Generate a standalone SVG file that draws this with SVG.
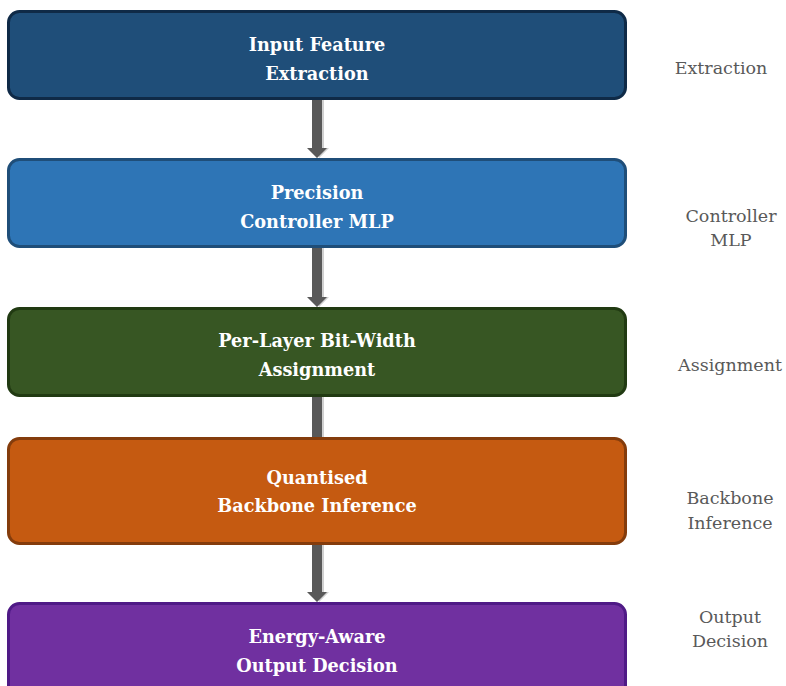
<svg xmlns="http://www.w3.org/2000/svg" width="786" height="686" viewBox="0 0 786 686">
<style>
.box{stroke-width:3}
.t{font-family:"DejaVu Serif","Liberation Serif",serif;font-weight:bold;font-size:17.7px;fill:#ffffff;text-anchor:middle}
.s{font-family:"DejaVu Serif","Liberation Serif",serif;font-size:17.5px;fill:#595959;text-anchor:middle}
.arr{fill:#595959}
.sh{fill:#d0d0d0}
</style>
<rect width="786" height="686" fill="#ffffff"/>
<g id="connectors">
<path class="sh" d="M314 100 H324 V148 H329 L319 158 Z"/>
<path class="arr" d="M312 100 H322 V148 H327 L317 158 L307 148 H312 Z"/>
<path class="sh" d="M314 248 H324 V297 H329 L319 307 Z"/>
<path class="arr" d="M312 248 H322 V297 H327 L317 307 L307 297 H312 Z"/>
<path class="sh" d="M314 397 H324 V440 H314 Z"/>
<path class="arr" d="M312 397 H322 V440 H312 Z"/>
<path class="sh" d="M314 545 H324 V592 H329 L319 602 Z"/>
<path class="arr" d="M312 545 H322 V592 H327 L317 602 L307 592 H312 Z"/>
</g>
<g id="node1">
<rect class="box" x="8.5" y="11.5" width="617" height="87" rx="11" fill="#1f4e79" stroke="#0f2a47"/>
<text class="t" x="317" y="51">Input Feature</text>
<text class="t" x="317" y="80">Extraction</text>
</g>
<g id="node2">
<rect class="box" x="8.5" y="159.5" width="617" height="87" rx="11" fill="#2e75b6" stroke="#1f4e79"/>
<text class="t" x="317" y="199">Precision</text>
<text class="t" x="317" y="228">Controller MLP</text>
</g>
<g id="node3">
<rect class="box" x="8.5" y="308.5" width="617" height="87" rx="11" fill="#375623" stroke="#213a12"/>
<text class="t" x="317" y="347">Per-Layer Bit-Width</text>
<text class="t" x="317" y="376">Assignment</text>
</g>
<g id="node4">
<rect class="box" x="8.5" y="438.5" width="617" height="105" rx="11" fill="#c55a11" stroke="#843c0c"/>
<text class="t" x="317" y="484">Quantised</text>
<text class="t" x="317" y="512">Backbone Inference</text>
</g>
<g id="node5">
<rect class="box" x="8.5" y="603.5" width="617" height="100" rx="11" fill="#7030a0" stroke="#4f1a86"/>
<text class="t" x="317" y="643">Energy-Aware</text>
<text class="t" x="317" y="672">Output Decision</text>
</g>
<g id="labels">
<text class="s" x="721" y="74">Extraction</text>
<text class="s" x="731" y="222">Controller</text>
<text class="s" x="731" y="246">MLP</text>
<text class="s" x="730" y="371">Assignment</text>
<text class="s" x="730" y="504">Backbone</text>
<text class="s" x="730" y="529">Inference</text>
<text class="s" x="730" y="623">Output</text>
<text class="s" x="730" y="647">Decision</text>
</g>
</svg>
